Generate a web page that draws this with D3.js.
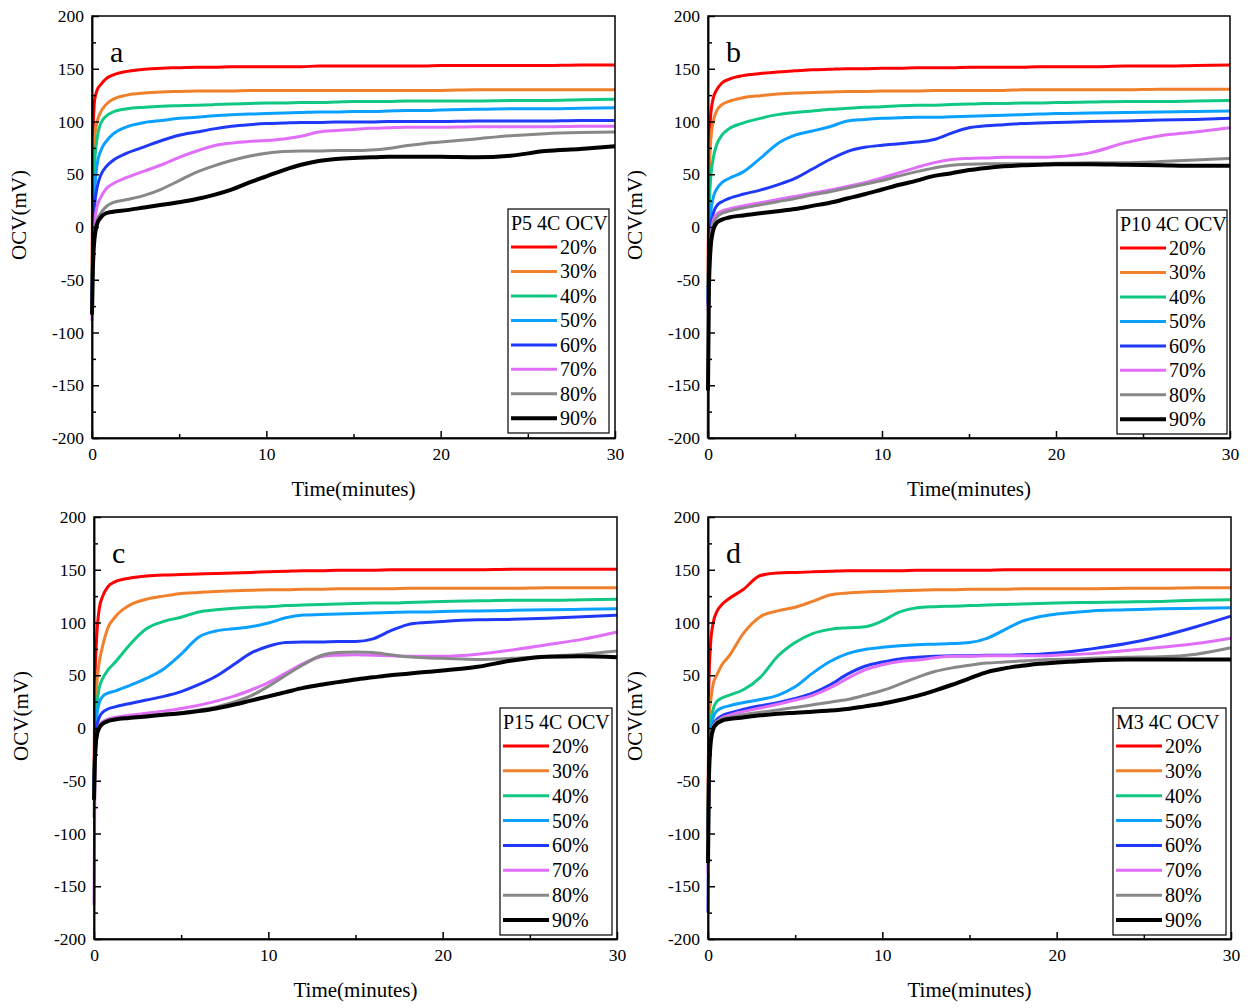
<!DOCTYPE html>
<html><head><meta charset="utf-8">
<script src="https://cdn.jsdelivr.net/npm/d3@7/dist/d3.min.js"></script>
<style>body{margin:0;background:#fff}svg{display:block;font-family:"Liberation Serif","Times New Roman",serif}</style>
</head><body><svg id="c" width="1253" height="1008"></svg>
<script>
// Time grid (minutes)
const T = [0,0.05,0.15,0.3,0.5,0.8,1.2,2,3,4,5,6,7,8,9,10,11,12,13,14,15,16,17,18,19,20,22,24,26,28,30];
const socLabels = ["20%","30%","40%","50%","60%","70%","80%","90%"];
const colors = ["#ff0000","#f0802c","#10c882","#0aa0ff","#2038f8","#e06ef8","#888888","#000000"];
const xTicks = [0,10,20,30];
const yTicks = [-200,-150,-100,-50,0,50,100,150,200];

// Panel a : P5
const p5_20 = [-60,80,120,130,135,140.5,144,147.5,149.5,150.5,151,151.5,151.5,152,152,152,152,152,152.5,152.5,152.5,152.5,152.5,152.5,152.5,153,153,153,153,153.5,153.5];
const p5_30 = [-65,40,85,100,109,116,121,125,127,128,128.5,129,129,129,129.5,129.5,129.5,129.5,129.5,129.5,129.5,129.5,129.5,129.5,129.5,129.5,130,130,130,130,130];
const p5_40 = [-70,20,60,85,98,105,109,112,113.5,114.5,115,115.5,116,116.5,117,117.5,117.5,118,118,118.5,119,119,119,119.5,119.5,119.5,119.5,120,120,120.5,121];
const p5_50 = [-72,0,35,60,72,81,88,95,99,101,103,104,105.5,106.5,107,107.5,108,108.5,109,109,109.5,109.5,110,110.5,110.5,111,111.5,112,112,112.5,113];
const p5_60 = [-75,-10,20,38,49,57,63,70,76,82,87,90,93,95.5,97,98,98.5,99,99,99.5,99.5,99.5,100,100,100,100,100.5,100.5,100.5,101,101];
const p5_70 = [-89,-20,5,20,28,36,41,47,53,59,66,72,77,79.5,81,82,83.5,86,90,91.5,92.5,93.5,94,94.5,94.5,94.5,95,95,95,95.5,95.5];
const p5_80 = [-80,-30,-5,7,13,19,23,26,30,36,44,52,58,63,67,70,71.5,72,72,72.5,72.5,73,74.5,77,79,80.5,83.5,86.5,88.5,89.5,90];
const p5_90 = [-83,-40,-10,3,9,13,14.5,16,18.5,21,23.5,26.5,30.5,35.5,42,48,54,59,62.5,64.5,65.5,66,66.5,66.5,66.5,66.5,66,67.5,72,74,76.5];

// Panel b : P10
const p10_20 = [-60,60,105,122,130,136.5,140,143.5,145.5,147,148,149,149.5,150,150,150.5,150.5,151,151,151,151.5,151.5,151.5,151.5,152,152,152,152.5,152.5,153,153.5];
const p10_30 = [-65,30,80,100,110,116,119,122.5,124.5,126,127,127.5,128,128.5,128.5,129,129,129,129.5,129.5,129.5,129.5,129.5,130,130,130,130,130,130.5,130.5,130.5];
const p10_40 = [-70,10,45,65,78,87,93,98.5,103,106.5,108.5,110,111.5,112.5,113.5,114,115,115.5,115.5,116,116.5,117,117,117.5,117.5,118,118.5,119,119,119.5,120];
const p10_50 = [-72,-15,12,28,36,42,46,52,65,79,87,91,95,100.5,102,103,103.5,104,104,104.5,105,105.5,106,106.5,107,107.5,108,108.5,109,109.5,110];
const p10_60 = [-75,-25,0,13,20,24,27,31,35,40,46,55,64,71.5,75.5,77.5,79,80.5,83,89,94,96,97,98,98.5,99,100,100.5,101.5,102,103];
const p10_70 = [-80,-35,-10,6,12,15,17,20,23,26,29,32,35,38.5,42,46.5,51.5,56.5,61,64,65,65.5,66,66,66,66.5,70.5,80,86.5,90,94];
const p10_80 = [-200,-60,-15,3,9,13,15,18,21,24,27,30.5,33.5,37,40.5,44,48.5,52.5,56,58.5,59.5,60,60,60,60,60.5,61,61,62,63.5,65];
const p10_90 = [-155,-60,-20,-3,4,7,9,11,13,15,17,20,23,27,31,35.5,40,44,48.5,51,54,56,57.5,58.5,59,59.5,59.5,59,58.5,58,58];

// Panel c : P15
const p15_20 = [-50,40,85,113,125,134,138.5,142,144,145,145.5,146,146.5,147,147.5,148,148.5,149,149,149.5,149.5,149.5,150,150,150,150,150,150.5,150.5,150.5,150.5];
const p15_30 = [-55,10,40,62,78,95,105,116,122,125,127.5,128.5,129.5,130,130.5,131,131,131.5,131.5,132,132,132,132,132.5,132.5,132.5,132.5,132.5,133,133,133];
const p15_40 = [-60,-5,20,38,47,55,62,78,94,101,105,110,112,113.5,114.5,115,116,116.5,117,117.5,118,118.5,118.5,119,119.5,120,120.5,121,121,121.5,122];
const p15_50 = [-60,-10,10,24,30,33,35,40,47,56,70,86,92,94,96,99.5,104.5,107,107.5,108,108.5,109,109.5,110,110,110.5,111,111.5,112,112.5,113];
const p15_60 = [-60,-20,0,10,15,18,20,23,26.5,30,34.5,41,49,60,71,77.5,81,81.5,81.5,82,82,84.5,92,98,100,101,102.5,103,104,105.5,107];
const p15_70 = [-168,-50,-10,2,6,8.5,10,12,14,16,18.5,21.5,25.5,30,36,43,52,61,67.5,69,69.5,69,68.5,68,68,68,70,74,79,84,91];
const p15_80 = [-85,-40,-10,1,5,7,8.5,10,11.5,13,14.5,17,20,24.5,30.5,39.5,50,60,68.5,71.5,72,71.5,69.5,67.5,66.5,66,65,66,68,70,73];
const p15_90 = [-68,-30,-8,0,4,6.5,8,9.5,11,12.5,14,16,18.5,22,26,30,34,38,41,43.5,46,48,50,51.5,53,54.5,58,64,67.5,68,67];

// Panel d : M3
const m3_20 = [-100,40,80,100,110,117,122.5,131,144.5,147,147.5,148,148.5,149,149,149,149,149.5,149.5,149.5,149.5,149.5,150,150,150,150,150,150,150,150,150];
const m3_30 = [-80,10,25,42,50,60,68,89,105.5,111,114.5,120,126,128,129,129.5,130,130.5,131,131,131.5,131.5,131.5,132,132,132,132,132.5,132.5,133,133];
const m3_40 = [-90,-20,5,18,25,28.5,31,36,48,68,81,89.5,93.5,95,96,101.5,110,114,115,115.5,116,116.5,117,117.5,118,118.5,119,119.5,120,121,121.5];
const m3_50 = [-100,-40,-5,10,16,19,21,24,27,31,39,52,63,70.5,74.5,76.5,78,79,79.5,80,81,85,93,101,105.5,108,111,112,113,113.5,114];
const m3_60 = [-175,-50,-10,3,8,11.5,14,17.5,21,24,28,33,41,51,58.5,62.5,65.5,67,68,68.5,68.5,69,69,69.5,70,71,75,80,87,96,106];
const m3_70 = [-138,-45,-10,2,6,9.5,12,15.5,19,22.5,26.5,31,38,47,55,60,63,64.5,66.5,68,68,68.5,68.5,68.5,68.5,69,70.5,73.5,76.5,80,85];
const m3_80 = [-120,-45,-10,2,6,8.5,10,12.5,15,17,19.5,22,24.5,27,31,35.5,41.5,48,53.5,57,59.5,61.5,62.5,63.5,64.5,65,66,67,67.5,70,76];
const m3_90 = [-128,-50,-15,-1,4,7,8.5,10,12,13.5,14.5,15.5,16.5,18,20.5,23,26.5,30.5,35.5,41,47,53,56.5,59,61,62,64,65,65,65,65];

const panels = [
  {letter:"a", title:"P5 4C OCV",  series:[p5_20,p5_30,p5_40,p5_50,p5_60,p5_70,p5_80,p5_90],
   box:{l:92,r:615,t:16,b:438}, leg:{x:508,y:209,w:101,h:224}},
  {letter:"b", title:"P10 4C OCV", series:[p10_20,p10_30,p10_40,p10_50,p10_60,p10_70,p10_80,p10_90],
   box:{l:708,r:1230,t:16,b:438}, leg:{x:1117,y:210,w:110,h:224}},
  {letter:"c", title:"P15 4C OCV", series:[p15_20,p15_30,p15_40,p15_50,p15_60,p15_70,p15_80,p15_90],
   box:{l:94,r:617,t:517,b:939}, leg:{x:500,y:708,w:112,h:227}},
  {letter:"d", title:"M3 4C OCV",  series:[m3_20,m3_30,m3_40,m3_50,m3_60,m3_70,m3_80,m3_90],
   box:{l:708,r:1231,t:517,b:939}, leg:{x:1113,y:708,w:113,h:227}}
];

const svg = d3.select("#c");
const fmt = d => String(d);

panels.forEach(p => {
  const B = p.box;
  const x = d3.scaleLinear().domain([0,30]).range([B.l,B.r]);
  const y = d3.scaleLinear().domain([-200,200]).range([B.b,B.t]);
  const g = svg.append("g");

  // lines
  const line = d3.line().x((d,i)=>x(T[i])).y(d=>y(d)).curve(d3.curveMonotoneX);
  p.series.forEach((s,k) => {
    g.append("path").attr("d", line(s)).attr("fill","none")
      .attr("stroke", colors[k]).attr("stroke-width", k===7?4:3)
      .attr("stroke-linejoin","round").attr("stroke-linecap","butt");
  });

  // frame
  g.append("rect").attr("x",B.l).attr("y",B.t).attr("width",B.r-B.l).attr("height",B.b-B.t)
    .attr("fill","none").attr("stroke","#000").attr("stroke-width",1.5);

  // x axis
  g.append("g").attr("transform",`translate(0,${B.b})`)
    .call(d3.axisBottom(x).tickValues(xTicks).tickSize(-7).tickSizeOuter(0).tickPadding(10).tickFormat(fmt));
  g.append("g").attr("transform",`translate(0,${B.b})`)
    .call(d3.axisBottom(x).tickValues([5,15,25]).tickSize(-4).tickSizeOuter(0).tickFormat(""));
  // y axis
  g.append("g").attr("transform",`translate(${B.l},0)`)
    .call(d3.axisLeft(y).tickValues(yTicks).tickSize(-7).tickSizeOuter(0).tickPadding(8).tickFormat(fmt));
  g.append("g").attr("transform",`translate(${B.l},0)`)
    .call(d3.axisLeft(y).tickValues(d3.range(-175,200,50)).tickSize(-4).tickSizeOuter(0).tickFormat(""));
  g.selectAll(".domain").attr("stroke","#000").attr("stroke-width",1.5);
  g.selectAll(".tick line").attr("stroke","#000").attr("stroke-width",1.5);
  g.selectAll(".tick text").attr("font-size",17.5).attr("fill","#000")
    .attr("font-family","Liberation Serif, Times New Roman, serif");

  // axis titles
  g.append("text").attr("x",(B.l+B.r)/2).attr("y",B.b+58)
    .attr("text-anchor","middle").attr("font-size",21).text("Time(minutes)");
  g.append("text").attr("transform",`translate(${B.l-66},${(B.t+B.b)/2 - 12}) rotate(-90)`)
    .attr("text-anchor","middle").attr("font-size",21).text("OCV(mV)");

  // panel letter
  g.append("text").attr("x",B.l+18).attr("y",B.t+46).attr("font-size",30).text(p.letter);

  // legend
  const L = p.leg;
  const lg = g.append("g");
  lg.append("rect").attr("x",L.x).attr("y",L.y).attr("width",L.w).attr("height",L.h)
    .attr("fill","#fff").attr("stroke","#000").attr("stroke-width",1.2);
  lg.append("text").attr("x",L.x+3).attr("y",L.y+21).attr("font-size",20).text(p.title);
  const step = (L.h-38)/7.6;
  socLabels.forEach((lab,k) => {
    const cy = L.y + 38 + k*step;
    lg.append("line").attr("x1",L.x+3).attr("x2",L.x+49).attr("y1",cy).attr("y2",cy)
      .attr("stroke",colors[k]).attr("stroke-width",k===7?4:3);
    lg.append("text").attr("x",L.x+52).attr("y",cy+7).attr("font-size",20).text(lab);
  });
});
</script></body></html>
